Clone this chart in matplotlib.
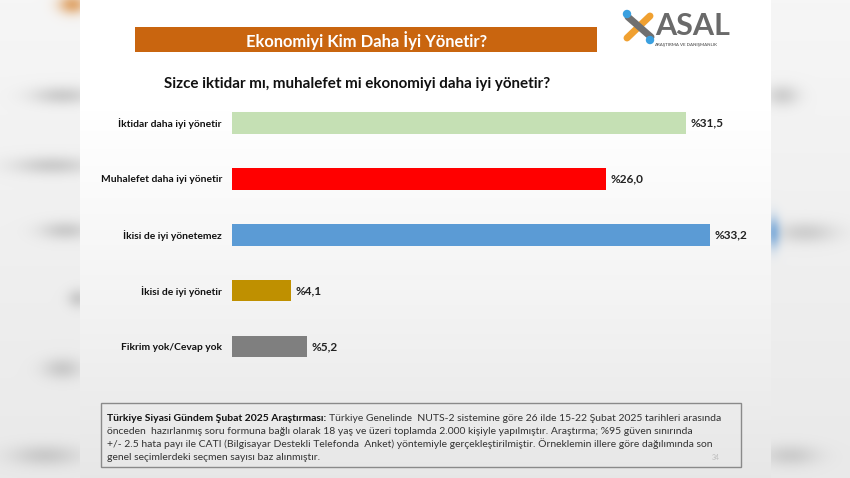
import numpy as np
import matplotlib
matplotlib.use("Agg")
import matplotlib.pyplot as plt
from matplotlib.patches import Rectangle, Circle

plt.rcParams['font.family'] = ['Lato', 'DejaVu Sans']

# ---------------- data ----------------
categories = ["İktidar daha iyi yönetir", "Muhalefet daha iyi yönetir",
              "İkisi de iyi yönetemez", "İkisi de iyi yönetir", "Fikrim yok/Cevap yok"]
values = [31.5, 26.0, 33.2, 4.1, 5.2]
value_labels = ["%31,5", "%26,0", "%33,2", "%4,1", "%5,2"]
bar_colors = ["#C5E0B4", "#FF0000", "#5B9BD5", "#BF9000", "#7F7F7F"]
title = "Ekonomiyi Kim Daha İyi Yönetir?"
subtitle = "Sizce iktidar mı, muhalefet mi ekonomiyi daha iyi yönetir?"
footer_bold = "Türkiye Siyasi Gündem Şubat 2025 Araştırması:"
footer_first_rest = "Türkiye Genelinde  NUTS-2 sistemine göre 26 ilde 15-22 Şubat 2025 tarihleri arasında"
footer_lines = [
    "önceden  hazırlanmış soru formuna bağlı olarak 18 yaş ve üzeri toplamda 2.000 kişiyle yapılmıştır. Araştırma; %95 güven sınırında",
    "+/- 2.5 hata payı ile CATI (Bilgisayar Destekli Telefonda  Anket) yöntemiyle gerçekleştirilmiştir. Örneklemin illere göre dağılımında son",
    "genel seçimlerdeki seçmen sayısı baz alınmıştır.",
]
page_number = "34"
logo_text = "ASAL"
logo_sub = "ARAŞTIRMA VE DANIŞMANLIK"

# ---------------- figure ----------------
W, H = 850, 478
fig = plt.figure(figsize=(8.5, 4.78), dpi=100)
bg = fig.add_axes([0, 0, 1, 1])
bg.set_xlim(0, W)
bg.set_ylim(H, 0)
bg.axis('off')

yy = np.arange(H)[:, None].astype(float)
xx = np.arange(W)[None, :].astype(float)
side = 0.965 - 0.05 * (yy / H)
img = np.broadcast_to(side[:, :, None], (H, W, 3)).copy()


def blob(img, cx, cy, sx, sy, color, s):
    g = np.exp(-(((xx - cx) ** 2) / (2 * sx ** 2) + ((yy - cy) ** 2) / (2 * sy ** 2)))
    g = (s * g)[:, :, None]
    return img * (1 - g) + np.array(color)[None, None, :] * g


grey = (0.72, 0.72, 0.72)
for cx, cy, sx, sy in [(62, 95, 22, 7), (52, 165, 28, 7), (65, 230, 18, 7),
                       (78, 298, 8, 7), (62, 368, 14, 8), (45, 455, 25, 8)]:
    img = blob(img, cx, cy, sx, sy, grey, 0.6)
img = blob(img, 72, 4, 10, 7, (0.85, 0.55, 0.25), 0.7)
for cx, cy, sx, sy in [(782, 95, 12, 8), (805, 232, 22, 8), (790, 455, 20, 8)]:
    img = blob(img, cx, cy, sx, sy, grey, 0.55)
img = blob(img, 773, 232, 5, 11, (0.45, 0.65, 0.85), 0.8)

# slide area
slide_lvl = 1.0 - 0.095 * np.clip((yy - 110) / (H - 110), 0, 1) ** 1.1
slide = np.broadcast_to(slide_lvl[:, :, None], (H, W, 3))
mask = ((xx >= 80) & (xx <= 770))[:, :, None]
img = np.where(mask, slide, img)
bg.imshow(np.clip(img, 0, 1), extent=(0, W, H, 0), aspect='auto', zorder=0)
bg.set_xlim(0, W)
bg.set_ylim(H, 0)

# title banner
bg.add_patch(Rectangle((135, 27), 462, 25, facecolor='#C9650F', edgecolor='none', zorder=2))
bg.text(367, 40, title, color='white', fontsize=11.9, fontweight='bold',
        ha='center', va='center', zorder=3)

# subtitle
bg.text(357, 84, subtitle, color='#111111', fontsize=10.9, fontweight='bold',
        ha='center', va='center', zorder=3)

# logo
bg.plot([627, 650], [38, 16], color='#F0A030', lw=5, solid_capstyle='round', zorder=3)
bg.plot([628, 651], [17, 37], color='#707070', lw=5, solid_capstyle='round', zorder=3)
bg.add_patch(Circle((627, 14), 3.5, color='#3AA0E0', zorder=4))
bg.add_patch(Circle((650, 40), 3.5, color='#3AA0E0', zorder=4))
bg.text(655, 35, logo_text, color='#6a6a6a', fontsize=22, fontweight='bold',
        ha='left', va='baseline', zorder=3)
bg.text(654, 42.5, logo_sub, color='#6a6a6a', fontsize=3.2, fontweight='bold',
        ha='left', va='top', zorder=3)

# ---------------- bar chart ----------------
px_per_unit = 14.4
xmax = 35
ax_left = 232
ax = fig.add_axes([ax_left / W, 1 - 374.5 / H, xmax * px_per_unit / W, 279.5 / H])
ax.patch.set_alpha(0)
y = np.arange(len(categories))
ax.barh(y, values, height=0.385, color=bar_colors, zorder=2)
ax.set_xlim(0, xmax)
ax.set_ylim(len(categories) - 0.5, -0.5)
ax.set_yticks(y)
ax.set_yticklabels(categories, fontsize=7.4, fontweight='bold', color='#111111')
ax.tick_params(axis='y', length=0, pad=7.2)
ax.set_xticks([])
for s in ax.spines.values():
    s.set_visible(False)
for yi, v, lab in zip(y, values, value_labels):
    ax.annotate(lab, xy=(v, yi), xytext=(3.2, 0), textcoords='offset points',
                ha='left', va='center', fontsize=8.5, fontweight='bold', color='#222222')

# ---------------- footer ----------------
bg.add_patch(Rectangle((101, 403), 640, 64, facecolor='none', edgecolor='#8a8a8a',
                       lw=1.0, zorder=3))
fs = 7.5
line_y = [421, 434, 447, 460]
t0 = bg.text(107, line_y[0], footer_bold, fontsize=fs, fontweight='bold',
             color='#111111', ha='left', va='baseline', zorder=4)
fig.canvas.draw()
bb = t0.get_window_extent()
x_end = bg.transData.inverted().transform((bb.x1, bb.y0))[0]
bg.text(x_end + 3, line_y[0], footer_first_rest, fontsize=fs, color='#333333',
        ha='left', va='baseline', zorder=4)
for ly, txt in zip(line_y[1:], footer_lines):
    bg.text(107, ly, txt, fontsize=fs, color='#333333', ha='left', va='baseline', zorder=4)
bg.text(712, line_y[-1], page_number, fontsize=5, color='#bdbdbd', ha='left',
        va='baseline', zorder=4)

fig.savefig('out.png', dpi=100)
